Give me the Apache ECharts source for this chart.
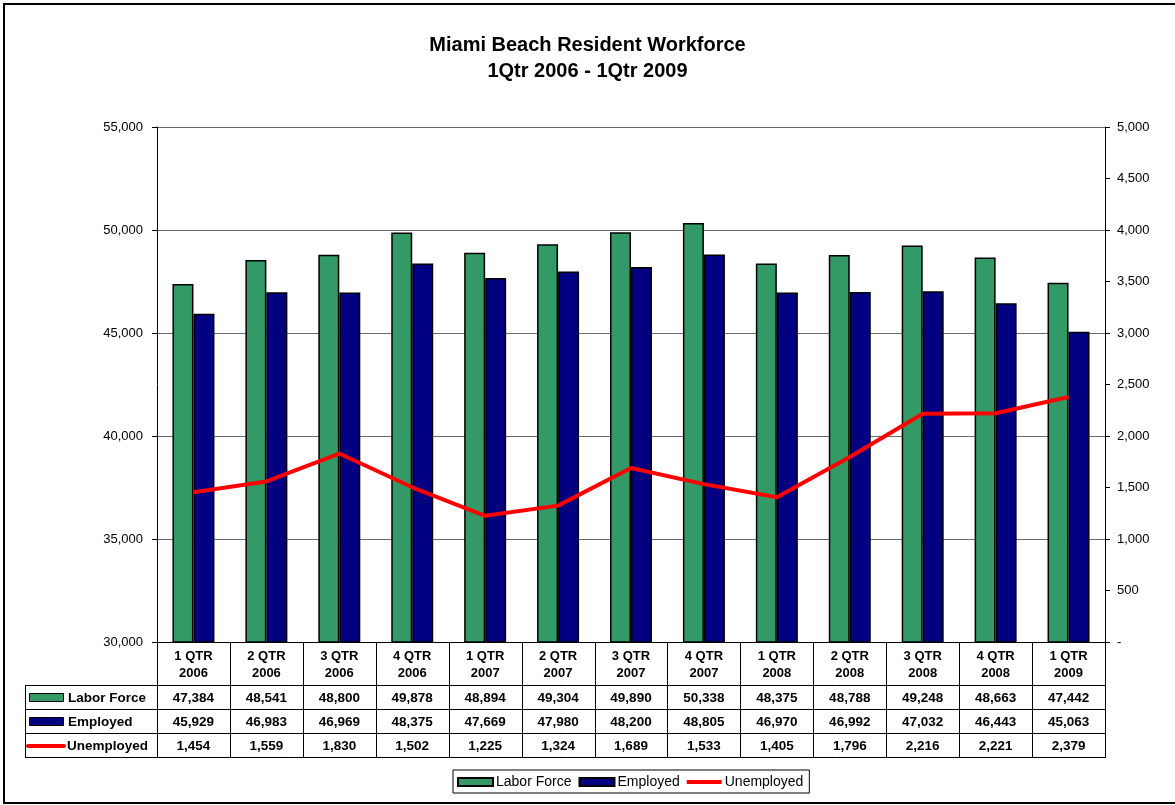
<!DOCTYPE html>
<html>
<head>
<meta charset="utf-8">
<script src="https://cdn.jsdelivr.net/npm/echarts@6/dist/echarts.min.js"></script>
<style>
html,body{margin:0;padding:0;background:#fff;}
#chart{width:1175px;height:805px;}
</style>
</head>
<body>
<div id="chart"></div>
<script>
const categories = ['1 QTR\n2006','2 QTR\n2006','3 QTR\n2006','4 QTR\n2006','1 QTR\n2007','2 QTR\n2007','3 QTR\n2007','4 QTR\n2007','1 QTR\n2008','2 QTR\n2008','3 QTR\n2008','4 QTR\n2008','1 QTR\n2009'];
const laborForce = [47384,48541,48800,49878,48894,49304,49890,50338,48375,48788,49248,48663,47442];
const employed = [45929,46983,46969,48375,47669,47980,48200,48805,46970,46992,47032,46443,45063];
const unemployed = [1454,1559,1830,1502,1225,1324,1689,1533,1405,1796,2216,2221,2379];
const seriesNames = ['Labor Force','Employed','Unemployed'];

const FONT = '"Liberation Sans", Arial, sans-serif';
const GREEN = '#339966', NAVY = '#000080', RED = '#ff0000';
const fmt = v => v === 0 ? '-' : v.toLocaleString('en-US');

const chart = echarts.init(document.getElementById('chart'), null, {renderer:'canvas'});
const option = {
  animation: false,
  backgroundColor: '#fff',
  textStyle: {fontFamily: FONT},
  title: {
    text: 'Miami Beach Resident Workforce\n1Qtr 2006 - 1Qtr 2009',
    left: 'center', top: 27,
    textStyle: {fontFamily: FONT, fontSize: 20, fontWeight: 'bold', color: '#000', lineHeight: 26}
  },
  legend: {
    left: 453, top: 770,
    padding: [5, 6, 4, 4],
    itemWidth: 35, itemHeight: 8, itemGap: 7,
    borderColor: '#000', borderWidth: 1,
    textStyle: {fontFamily: FONT, fontSize: 14, color: '#000', padding: [0,0,0,-2]},
    data: [
      {name: seriesNames[0], icon: 'rect'},
      {name: seriesNames[1], icon: 'rect'},
      {name: seriesNames[2], icon: 'path://M0,0 L36,0 L36,4 L0,4 Z', itemStyle: {color: RED, borderWidth: 0}}
    ]
  },
  grid: {left: 157, right: 70, top: 127, bottom: 163, containLabel: false},
  xAxis: {
    type: 'category', data: categories,
    axisLine: {lineStyle: {color: '#000'}},
    axisTick: {show: false},
    axisLabel: {show: false}
  },
  yAxis: [
    {
      type: 'value', min: 30000, max: 55000, interval: 5000,
      axisLine: {show: true, lineStyle: {color: '#000'}},
      axisTick: {show: true, length: 5, lineStyle: {color: '#000'}},
      axisLabel: {fontFamily: FONT, fontSize: 13, color: '#000', margin: 14, formatter: fmt},
      splitLine: {lineStyle: {color: '#6b6b6b', width: 1}}
    },
    {
      type: 'value', min: 0, max: 5000, interval: 500,
      axisLine: {show: true, lineStyle: {color: '#000'}},
      axisTick: {show: true, length: 5, lineStyle: {color: '#000'}},
      axisLabel: {fontFamily: FONT, fontSize: 13, color: '#000', margin: 12, formatter: fmt},
      splitLine: {show: false}
    }
  ],
  series: [
    {name: seriesNames[0], type: 'bar', data: laborForce, yAxisIndex: 0, barWidth: 21, barGap: '0%',
     itemStyle: {color: GREEN, borderColor: '#000', borderWidth: 1.5}},
    {name: seriesNames[1], type: 'bar', data: employed, yAxisIndex: 0, barWidth: 21, barGap: '0%',
     itemStyle: {color: NAVY, borderColor: '#000', borderWidth: 1.5}},
    {name: seriesNames[2], type: 'line', data: unemployed, yAxisIndex: 1, symbol: 'none',
     lineStyle: {color: RED, width: 4}, itemStyle: {color: RED}, z: 5}
  ]
};
chart.setOption(option);

function buildTable() {
  const g = [];
  const n = categories.length;
  const x0 = chart.convertToPixel({xAxisIndex: 0}, 0);
  const x1 = chart.convertToPixel({xAxisIndex: 0}, 1);
  const step = x1 - x0;
  const centers = categories.map((c, i) => chart.convertToPixel({xAxisIndex: 0}, i));
  const left = centers[0] - step / 2;
  const right = centers[n - 1] + step / 2;
  const yTop = 642, yH = 685, rowH = 24;
  const rowsY = [yH, yH + rowH, yH + 2 * rowH, yH + 3 * rowH];
  const labelLeft = 25;
  const ls = {stroke: '#000', lineWidth: 1};
  g.push({type: 'rect', shape: {x: 4, y: 4, width: 1180, height: 799}, style: {fill: null, stroke: '#000', lineWidth: 2}, z: -1, silent: true});
  for (let i = 0; i <= n; i++) {
    const x = Math.round(left + i * step) + 0.5;
    g.push({type: 'line', shape: {x1: x, y1: yTop, x2: x, y2: rowsY[3]}, style: ls, silent: true});
  }
  g.push({type: 'line', shape: {x1: labelLeft + 0.5, y1: yH, x2: labelLeft + 0.5, y2: rowsY[3]}, style: ls, silent: true});
  rowsY.forEach(y => {
    g.push({type: 'line', shape: {x1: labelLeft, y1: y + 0.5, x2: Math.round(right) + 1, y2: y + 0.5}, style: ls, silent: true});
  });
  centers.forEach((cx, i) => {
    g.push({type: 'text', x: cx, y: (yTop + yH) / 2 + 1, silent: true,
      style: {text: categories[i], fontFamily: FONT, fontSize: 13, fontWeight: 'bold', fill: '#000', align: 'center', verticalAlign: 'middle', lineHeight: 17}});
  });
  const rows = [laborForce, employed, unemployed];
  rows.forEach((arr, r) => {
    const cy = rowsY[r] + rowH / 2 + 1;
    arr.forEach((v, i) => {
      g.push({type: 'text', x: centers[i], y: cy, silent: true,
        style: {text: fmt(v), fontFamily: FONT, fontSize: 13.5, fontWeight: 'bold', fill: '#000', align: 'center', verticalAlign: 'middle'}});
    });
    if (r < 2) {
      g.push({type: 'rect', shape: {x: 29.5, y: cy - 4.5, width: 34, height: 8}, silent: true,
        style: {fill: r === 0 ? GREEN : NAVY, stroke: '#000', lineWidth: 1}});
      g.push({type: 'text', x: 68, y: cy, silent: true,
        style: {text: seriesNames[r], fontFamily: FONT, fontSize: 13.5, fontWeight: 'bold', fill: '#000', align: 'left', verticalAlign: 'middle'}});
    } else {
      g.push({type: 'line', shape: {x1: 28, y1: cy, x2: 64, y2: cy}, silent: true,
        style: {stroke: RED, lineWidth: 4, lineCap: 'round'}});
      g.push({type: 'text', x: 67, y: cy, silent: true,
        style: {text: seriesNames[r], fontFamily: FONT, fontSize: 13.5, fontWeight: 'bold', fill: '#000', align: 'left', verticalAlign: 'middle'}});
    }
  });
  chart.setOption({graphic: {elements: g}});
}
buildTable();
</script>
</body>
</html>
